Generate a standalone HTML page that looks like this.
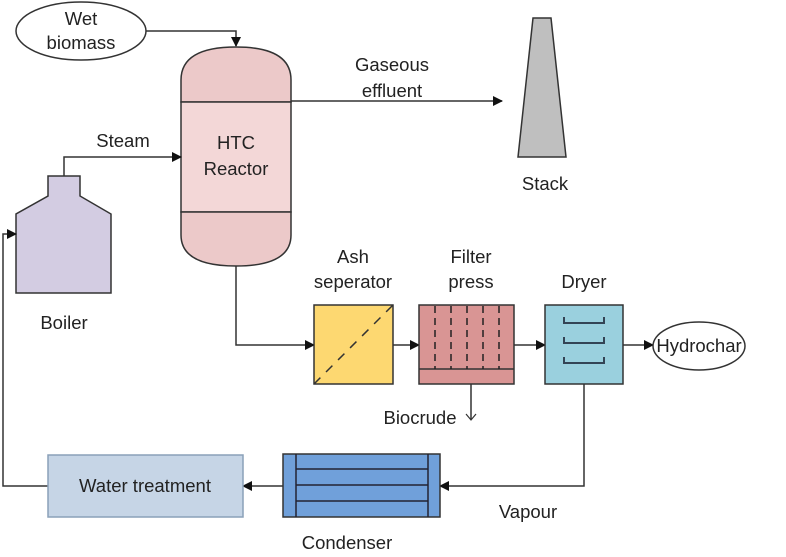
<!DOCTYPE html>
<html><head><meta charset="utf-8"><style>
body{margin:0;background:#fff}
svg text{font-family:"Liberation Sans",Arial,sans-serif;font-size:18.5px;fill:#222;text-anchor:middle}
</style></head><body>
<svg width="786" height="552" viewBox="0 0 786 552" xmlns="http://www.w3.org/2000/svg">
<defs><marker id="a" markerWidth="10" markerHeight="10" refX="9" refY="5" orient="auto" markerUnits="userSpaceOnUse"><path d="M0,0 L10,5 L0,10 Z" fill="#111"/></marker></defs>
<g stroke="#333" stroke-width="1.5" fill="none">
<ellipse cx="81" cy="31" rx="65" ry="29" fill="#fff"/>
<path d="M146,31 H236 V46" marker-end="url(#a)"/>
<path d="M181,102 V80 Q181,47 236,47 Q291,47 291,80 V102 Z" fill="#ecc9c9"/>
<rect x="181" y="102" width="110" height="110" fill="#f3d7d7"/>
<path d="M181,212 V235 Q181,266 236,266 Q291,266 291,235 V212 Z" fill="#ecc9c9"/>
<path d="M291,101 H502" marker-end="url(#a)"/>
<polygon points="533,18 551,18 566,157 518,157" fill="#bfbfbf"/>
<polygon points="48,176 80,176 80,196 111,214 111,293 16,293 16,214 48,196" fill="#d3cce2"/>
<path d="M64,176 V157 H181" marker-end="url(#a)"/>
<path d="M48,486 H3 V234 H16" marker-end="url(#a)"/>
<path d="M236,266 V345 H314" marker-end="url(#a)"/>
<rect x="314" y="305" width="79" height="79" fill="#fdd871"/>
<path d="M314,384 L393,305" stroke-dasharray="9,8"/>
<path d="M393,345 H419" marker-end="url(#a)"/>
<rect x="419" y="305" width="95" height="79" fill="#d99594"/>
<path d="M419,369 H514"/>
<path d="M435,306 V369 M451,306 V369 M467,306 V369 M483,306 V369 M499,306 V369" stroke-dasharray="7,5" stroke="#222"/>
<path d="M514,345 H545" marker-end="url(#a)"/>
<rect x="545" y="305" width="78" height="79" fill="#9ad0de"/>
<path d="M564,317 V323 H604 V317 M564,337 V343 H604 V337 M564,357 V363 H604 V357" stroke="#345" stroke-width="2"/>
<path d="M623,345 H653" marker-end="url(#a)"/>
<ellipse cx="699" cy="346" rx="46" ry="24" fill="#fff"/>
<path d="M471,384 V419"/>
<path d="M466,414 L471,420 L476,414" stroke-width="1.2"/>
<path d="M584,384 V486 H440" marker-end="url(#a)"/>
<rect x="283" y="454" width="157" height="63" fill="#70a0da"/>
<path d="M296,454 V517 M428,454 V517 M296,469 H428 M296,485 H428 M296,501 H428" stroke="#223"/>
<path d="M283,486 H243" marker-end="url(#a)"/>
<rect x="48" y="455" width="195" height="62" fill="#c6d5e6" stroke="#8aa0b8"/>
</g>
<text x="81" y="25">Wet</text><text x="81" y="49">biomass</text>
<text x="236" y="149">HTC</text><text x="236" y="175">Reactor</text>
<text x="392" y="71">Gaseous</text><text x="392" y="97">effluent</text>
<text x="545" y="190">Stack</text>
<text x="123" y="147">Steam</text>
<text x="64" y="329">Boiler</text>
<text x="353" y="263">Ash</text><text x="353" y="288">seperator</text>
<text x="471" y="263">Filter</text><text x="471" y="288">press</text>
<text x="584" y="288">Dryer</text>
<text x="699" y="352">Hydrochar</text>
<text x="420" y="424">Biocrude</text>
<text x="528" y="518">Vapour</text>
<text x="145" y="492">Water treatment</text>
<text x="347" y="549">Condenser</text>
</svg>
</body></html>
